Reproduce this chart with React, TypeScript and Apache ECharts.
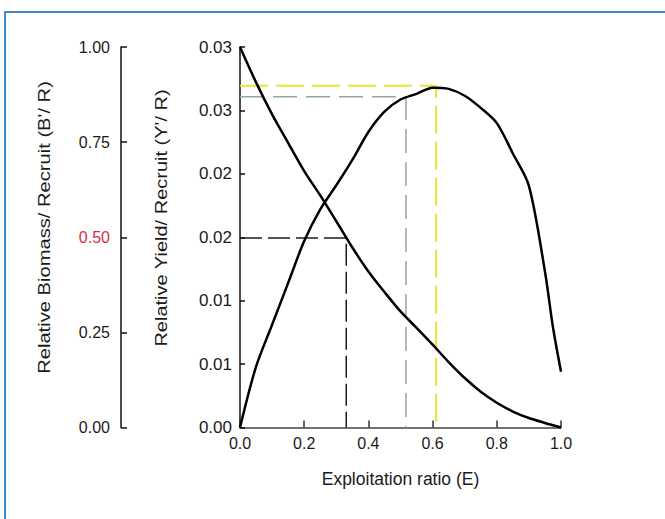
import React, { useEffect, useRef } from "react";
import * as echarts from "echarts";

// ---- data ----
const exploitation = [0, 0.05, 0.1, 0.15, 0.2, 0.25, 0.3, 0.35, 0.4, 0.45, 0.5, 0.55, 0.6, 0.65, 0.7, 0.75, 0.8, 0.85, 0.9, 0.95, 0.975, 1.0];
const biomassPerRecruit = [1.0, 0.907, 0.823, 0.748, 0.674, 0.61, 0.542, 0.473, 0.41, 0.356, 0.305, 0.262, 0.218, 0.172, 0.13, 0.094, 0.065, 0.042, 0.025, 0.012, 0.006, 0.0];
const yieldPerRecruit = [0, 0.0048, 0.0081, 0.0114, 0.0147, 0.0172, 0.0191, 0.0211, 0.0233, 0.0249, 0.02586, 0.02631, 0.02679, 0.0267, 0.02616, 0.0252, 0.024, 0.0216, 0.01905, 0.0123, 0.0079, 0.0044];

const xTickLabels = ["0.0", "0.2", "0.4", "0.6", "0.8", "1.0"];
const yieldTickLabels = ["0.00", "0.01", "0.01", "0.02", "0.02", "0.03", "0.03"];
const biomassTickLabels = ["0.00", "0.25", "0.50", "0.75", "1.00"];

// reference (dashed) lines: E value and yield level
const refE = [0.331, 0.517, 0.611];
const refYield = [0.01494, 0.02607, 0.02694];

const refStyles = [
  { color: "#1c1c1c", width: 1.5, dash: [22, 6] },
  { color: "#93aa93", width: 1.5, dash: [24, 9] },
  { color: "#e6e632", width: 2, dash: [28, 8] },
];

const FONT = "'Liberation Sans', Arial, sans-serif";

export default function App() {
  const ref = useRef<HTMLDivElement>(null);
  useEffect(() => {
    if (!ref.current) return;
    const chart = echarts.init(ref.current, null, { renderer: "svg" });

    const refSeries = refE.map((e, i) => ({
      type: "line",
      yAxisIndex: 0,
      data: [
        [0, refYield[i]],
        [e, refYield[i]],
        [e, 0],
      ],
      symbol: "none",
      silent: true,
      z: 1,
      lineStyle: {
        color: refStyles[i].color,
        width: refStyles[i].width,
        type: refStyles[i].dash,
      },
    }));

    chart.setOption({
      animation: false,
      backgroundColor: "#ffffff",
      textStyle: { fontFamily: FONT },
      grid: { left: 240, right: 104, top: 47, bottom: 91.5, containLabel: false },
      graphic: [
        {
          type: "rect",
          shape: { x: 5, y: 12, width: 720, height: 620 },
          style: { fill: "none", stroke: "#3d8ad0", lineWidth: 2 },
          silent: true,
        },
        {
          type: "text",
          x: 44.5,
          y: 227.5,
          rotation: Math.PI / 2,
          scaleX: 1.26,
          style: {
            text: "Relative Biomass/ Recruit (B'/ R)",
            fontSize: 16,
            fontFamily: FONT,
            fill: "#1a1a1a",
            align: "center",
            verticalAlign: "middle",
          },
        },
        {
          type: "text",
          x: 161.5,
          y: 218,
          rotation: Math.PI / 2,
          scaleX: 1.25,
          style: {
            text: "Relative Yield/ Recruit (Y'/ R)",
            fontSize: 16,
            fontFamily: FONT,
            fill: "#1a1a1a",
            align: "center",
            verticalAlign: "middle",
          },
        },
      ],
      xAxis: {
        type: "value",
        min: 0,
        max: 1,
        interval: 0.2,
        name: "Exploitation ratio (E)",
        nameLocation: "middle",
        nameGap: 42,
        nameTextStyle: { fontSize: 17.5, color: "#1a1a1a", fontFamily: FONT },
        axisLine: { show: true, onZero: false, lineStyle: { color: "#444", width: 1.5 } },
        axisTick: { show: true, inside: true, length: 7, lineStyle: { color: "#333", width: 1.5 } },
        axisLabel: {
          fontSize: 16,
          color: "#1a1a1a",
          margin: 8,
          fontFamily: FONT,
          formatter: (v: number) => xTickLabels[Math.round(v / 0.2)] ?? "",
        },
        splitLine: { show: false },
      },
      yAxis: [
        {
          type: "value",
          position: "left",
          min: 0,
          max: 0.03,
          interval: 0.005,
          axisLine: { show: true, onZero: false, lineStyle: { color: "#111", width: 1.5 } },
          axisTick: { show: true, inside: true, length: 5, lineStyle: { color: "#111", width: 1.5 } },
          axisLabel: {
            fontSize: 17,
            color: "#1a1a1a",
            margin: 8,
            fontFamily: FONT,
            formatter: (v: number) => yieldTickLabels[Math.round(v / 0.005)] ?? "",
          },
          splitLine: { show: false },
        },
        {
          type: "value",
          position: "left",
          offset: 119,
          min: 0,
          max: 1,
          interval: 0.25,
          axisLine: { show: true, onZero: false, lineStyle: { color: "#111", width: 1.5 } },
          axisTick: { show: true, inside: true, length: 6, lineStyle: { color: "#111", width: 1.5 } },
          axisLabel: {
            fontSize: 16,
            margin: 11,
            fontFamily: FONT,
            color: (v: number) => (Math.abs(v - 0.5) < 1e-9 ? "#d23048" : "#1a1a1a"),
            formatter: (v: number) => biomassTickLabels[Math.round(v / 0.25)] ?? "",
          },
          splitLine: { show: false },
        },
      ],
      series: [
        ...refSeries,
        {
          type: "line",
          name: "Yield",
          yAxisIndex: 0,
          data: exploitation.map((e, i) => [e, yieldPerRecruit[i]]),
          symbol: "none",
          smooth: 0.3,
          z: 3,
          lineStyle: { color: "#000", width: 2.5 },
        },
        {
          type: "line",
          name: "Biomass",
          yAxisIndex: 1,
          data: exploitation.map((e, i) => [e, biomassPerRecruit[i]]),
          symbol: "none",
          smooth: 0.3,
          z: 3,
          lineStyle: { color: "#000", width: 2.5 },
        },
      ],
    });
    return () => chart.dispose();
  }, []);

  return (
    <div
      ref={ref}
      style={{ position: "fixed", left: 0, top: 0, width: 665, height: 519, background: "#fff" }}
    />
  );
}
